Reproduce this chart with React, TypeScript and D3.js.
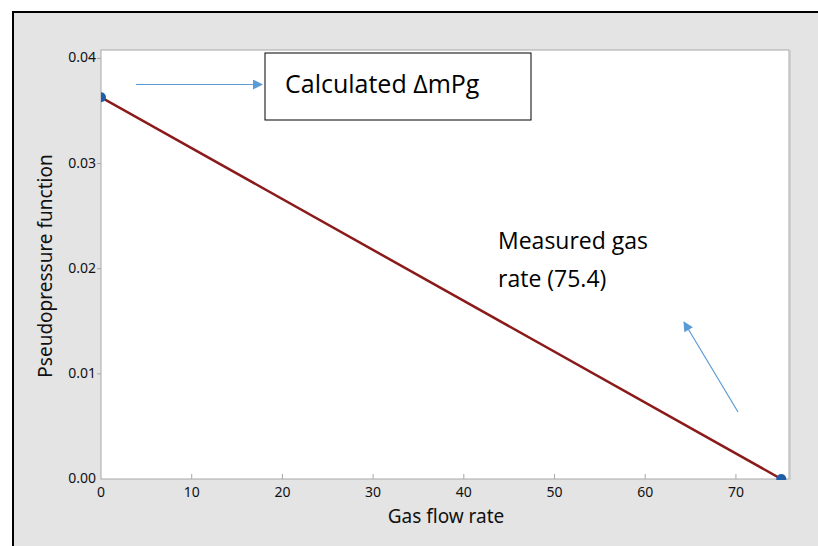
import React from "react";
import * as d3 from "d3";

const xValues = [0, 75];
const yValues = [0.0363, 0];
const xTicks = [0, 10, 20, 30, 40, 50, 60, 70];
const yTicks = [0, 0.01, 0.02, 0.03, 0.04];
const yTickLabels = ["0.00", "0.01", "0.02", "0.03", "0.04"];
const xLabel = "Gas flow rate";
const yLabel = "Pseudopressure function";
const note1 = "Calculated ΔmPg";
const note2 = ["Measured gas", "rate (75.4)"];

const W = 818;
const H = 546;
const left = 101, right = 789, top = 50, bottom = 479;

export default function App() {
  const x = d3.scaleLinear().domain([0, 75.85]).range([left, right]);
  const y = d3.scaleLinear().domain([0, 0.0408]).range([bottom, top]);
  const line = d3.line<number>().x((_, i) => x(xValues[i])).y((d) => y(d));
  const tickFont = "'Noto Sans', 'Open Sans', sans-serif";
  const noteFont = "'Open Sans', 'Noto Sans', sans-serif";
  const blue = "#5b9bd5";
  return (
    <svg width={W} height={H} style={{ position: "absolute", left: 0, top: 0 }}>
      <defs>
        <marker id="ah" viewBox="0 0 10 10" refX="9" refY="5" markerWidth="12" markerHeight="10" markerUnits="userSpaceOnUse" orient="auto">
          <path d="M0,0 L10,5 L0,10 z" fill={blue} />
        </marker>
        <clipPath id="pc">
          <rect x={left} y={top} width={right - left + 3} height={bottom - top + 1} />
        </clipPath>
      </defs>
      <rect x={0} y={0} width={W} height={H} fill="#ffffff" />
      <rect x={13} y={12} width={W + 20} height={H + 20} fill="#e4e4e4" stroke="#000" strokeWidth={2} />
      <rect x={left} y={top} width={right - left} height={bottom - top} fill="#fff" stroke="#a8a8a8" strokeWidth={1} />
      <line x1={right + 1.5} y1={top} x2={right + 1.5} y2={bottom + 1} stroke="#d0d0d0" strokeWidth={1} />
      {xTicks.map((t) => (
        <g key={"x" + t}>
          {t > 0 && <line x1={x(t)} x2={x(t)} y1={bottom} y2={bottom - 5} stroke="#a8a8a8" />}
          <text x={x(t)} y={bottom + 18} textAnchor="middle" fontFamily={tickFont} fontSize={14} fill="#111">{t}</text>
        </g>
      ))}
      {yTicks.map((t, i) => (
        <g key={"y" + t}>
          {t > 0 && <line x1={left} x2={left - 4} y1={y(t)} y2={y(t)} stroke="#a8a8a8" />}
          <text x={left - 5} y={y(t) + 4} textAnchor="end" fontFamily={tickFont} fontSize={14} fill="#111">{yTickLabels[i]}</text>
        </g>
      ))}
      <text x={446} y={523} textAnchor="middle" fontFamily={tickFont} fontSize={19} fill="#111">{xLabel}</text>
      <text transform={`translate(52,266) rotate(-90)`} textAnchor="middle" fontFamily={tickFont} fontSize={19} fill="#111">{yLabel}</text>
      <g clipPath="url(#pc)">
        <path d={line(yValues) || ""} fill="none" stroke="#8b1a1a" strokeWidth={2.5} />
        {yValues.map((v, i) => (
          <circle key={i} cx={x(xValues[i])} cy={y(v)} r={5} fill="#1f5fa8" />
        ))}
      </g>
      <rect x={265} y={53} width={266} height={67} fill="#fff" stroke="#000" strokeWidth={1} />
      <text x={285} y={93} fontFamily={noteFont} fontSize={25} fill="#000">{note1}</text>
      <line x1={136} y1={84.5} x2={262} y2={84.5} stroke={blue} strokeWidth={1.2} markerEnd="url(#ah)" />
      <text x={498} y={249} fontFamily={noteFont} fontSize={23} fill="#000">{note2[0]}</text>
      <text x={498} y={287} fontFamily={noteFont} fontSize={23} fill="#000">{note2[1]}</text>
      <line x1={738} y1={412} x2={684} y2={322} stroke={blue} strokeWidth={1.2} markerEnd="url(#ah)" />
    </svg>
  );
}
